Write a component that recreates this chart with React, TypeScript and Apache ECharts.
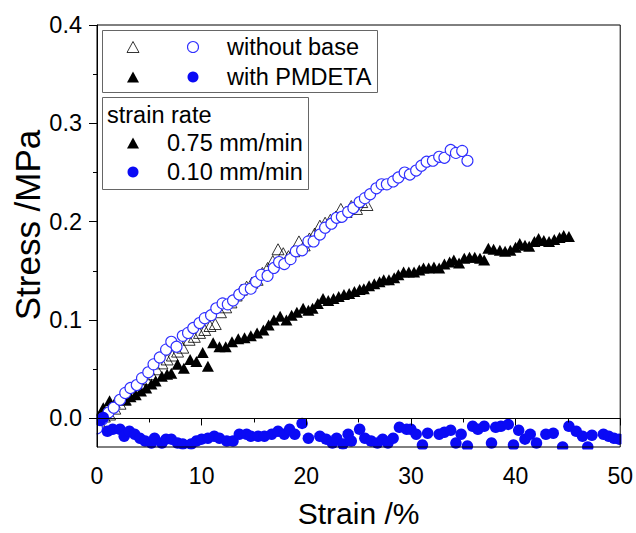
import React, { useEffect, useRef } from "react";
import * as echarts from "echarts";

const FONT = "'Liberation Sans', Arial, Helvetica, sans-serif";

const xTickValues = [0, 10, 20, 30, 40, 50];
const yMajorTicks = [0, 0.1, 0.2, 0.3, 0.4];
const yMinorTicks = [0.05, 0.15, 0.25, 0.35];

const legendTopLabels = ["without base", "with PMDETA"];
const legendRateTitle = "strain rate";
const legendRateLabels = ["0.75 mm/min", "0.10 mm/min"];

// without base, 0.75 mm/min (open triangles)
const withoutBaseFast: [number, number][] = [
  [0.2, -0.003], [0.7, 0.002], [1.2, 0.004], [1.7, 0.010], [2.2, 0.015], [2.7, 0.019],
  [3.2, 0.025], [3.7, 0.029], [4.2, 0.034], [4.7, 0.040], [5.2, 0.045], [5.7, 0.050],
  [6.2, 0.056], [6.7, 0.060], [7.2, 0.064], [7.7, 0.068], [8.2, 0.072], [8.8, 0.080],
  [9.3, 0.083], [9.8, 0.087], [10.3, 0.090], [10.8, 0.094], [11.3, 0.096], [11.8, 0.108],
  [12.3, 0.113], [12.8, 0.118], [13.3, 0.125], [13.8, 0.131], [14.3, 0.134], [14.8, 0.138],
  [15.3, 0.141], [15.8, 0.148], [16.3, 0.153], [16.8, 0.160], [17.3, 0.172], [17.8, 0.168],
  [18.3, 0.165], [18.8, 0.170], [19.3, 0.180], [19.8, 0.176], [20.3, 0.183], [20.8, 0.188],
  [21.3, 0.196], [21.8, 0.199], [22.3, 0.202], [22.8, 0.205], [23.3, 0.213], [23.8, 0.210],
  [24.3, 0.216], [24.8, 0.213], [25.3, 0.220], [25.8, 0.217],
];

// without base, 0.10 mm/min (open circles)
const withoutBaseSlow: [number, number][] = [
  [0, -0.010], [0.5, -0.001], [1.1, 0.006], [1.6, 0.011], [2.2, 0.019], [2.7, 0.026],
  [3.2, 0.031], [3.8, 0.034], [4.3, 0.041], [4.9, 0.047], [5.4, 0.055], [6.0, 0.062],
  [6.6, 0.070], [7.1, 0.078], [7.6, 0.073], [8.2, 0.084], [8.7, 0.087], [9.2, 0.092],
  [9.8, 0.097], [10.3, 0.102], [10.9, 0.105], [11.4, 0.112], [12.0, 0.117], [12.5, 0.116],
  [13.0, 0.120], [13.6, 0.126], [14.1, 0.131], [14.7, 0.132], [15.2, 0.139], [15.7, 0.146],
  [16.3, 0.145], [16.9, 0.153], [17.4, 0.159], [17.9, 0.157], [18.5, 0.162], [19.0, 0.170],
  [19.6, 0.171], [20.2, 0.180], [20.7, 0.180], [21.3, 0.187], [21.8, 0.194], [22.4, 0.198],
  [22.9, 0.204], [23.4, 0.205], [24.0, 0.210], [24.5, 0.214], [25.1, 0.220], [25.6, 0.224],
  [26.1, 0.228], [26.7, 0.234], [27.2, 0.238], [27.7, 0.238], [28.3, 0.241], [28.8, 0.245],
  [29.4, 0.250], [29.9, 0.248], [30.5, 0.252], [31.0, 0.257], [31.5, 0.261], [32.1, 0.262],
  [32.7, 0.266], [33.2, 0.265], [33.8, 0.273], [34.3, 0.270], [34.9, 0.272], [35.4, 0.262],
];

// with PMDETA, 0.75 mm/min (filled triangles)
const withPmdetaFast: [number, number][] = [
  [0.1, 0.002], [0.6, 0.011], [1.2, 0.018], [1.7, 0.016], [2.2, 0.020], [2.7, 0.019],
  [3.2, 0.022], [3.7, 0.024], [4.2, 0.028], [4.7, 0.031], [5.2, 0.035], [5.6, 0.038],
  [6.2, 0.043], [6.7, 0.045], [7.1, 0.046], [7.7, 0.055], [8.3, 0.051], [8.9, 0.060],
  [9.5, 0.058], [10.1, 0.067], [10.6, 0.053], [11.1, 0.077], [11.7, 0.073], [12.3, 0.073],
  [12.9, 0.078], [13.5, 0.081], [14.1, 0.082], [14.7, 0.084], [15.3, 0.087], [15.9, 0.090],
  [16.4, 0.095], [16.9, 0.100], [17.5, 0.104], [18.1, 0.100], [18.6, 0.105], [19.1, 0.108],
  [19.7, 0.112], [20.2, 0.110], [20.6, 0.112], [21.1, 0.117], [21.6, 0.122], [22.1, 0.120],
  [22.6, 0.122], [23.1, 0.124], [23.6, 0.126], [24.1, 0.127], [24.6, 0.129], [25.1, 0.131],
  [25.5, 0.132], [26.0, 0.135], [26.5, 0.137], [27.0, 0.139], [27.4, 0.141], [27.9, 0.141],
  [28.4, 0.143], [28.8, 0.146], [29.3, 0.149], [29.8, 0.149], [30.3, 0.149], [30.8, 0.151],
  [31.2, 0.153], [31.7, 0.153], [32.2, 0.154], [32.7, 0.153], [33.2, 0.157], [33.7, 0.159],
  [34.1, 0.161], [34.6, 0.158], [35.1, 0.163], [35.6, 0.164], [36.1, 0.164], [36.6, 0.163],
  [37.0, 0.161], [37.4, 0.173], [37.9, 0.172], [38.5, 0.171], [39.0, 0.170], [39.5, 0.171],
  [40.0, 0.174], [40.4, 0.178], [40.9, 0.176], [41.3, 0.175], [41.8, 0.180], [42.2, 0.183],
  [42.7, 0.181], [43.2, 0.180], [43.7, 0.182], [44.2, 0.184], [44.6, 0.186], [45.1, 0.185],
];

// with PMDETA, 0.10 mm/min (filled circles)
const withPmdetaSlow: [number, number][] = [
  [0.3, -0.002], [0.6, 0.001], [1.0, -0.013], [1.5, -0.011], [2.2, -0.011], [2.6, -0.018],
  [3.1, -0.013], [3.6, -0.016], [4.1, -0.020], [4.6, -0.023], [5.2, -0.025], [5.5, -0.020],
  [6.2, -0.025], [6.6, -0.021], [7.1, -0.021], [7.7, -0.025], [8.2, -0.026], [9.0, -0.026],
  [9.5, -0.023], [10.0, -0.021], [10.6, -0.020], [11.2, -0.018], [11.7, -0.020], [12.4, -0.023],
  [13.0, -0.023], [13.6, -0.016], [14.3, -0.016], [14.7, -0.018], [15.4, -0.018], [16.0, -0.018],
  [16.7, -0.016], [17.3, -0.013], [17.9, -0.016], [18.4, -0.011], [18.9, -0.016], [19.6, -0.005],
  [20.2, -0.020], [21.3, -0.018], [21.9, -0.021], [22.5, -0.025], [22.9, -0.020], [23.5, -0.026],
  [24.0, -0.016], [24.3, -0.023], [25.1, -0.011], [25.6, -0.020], [26.2, -0.023], [26.8, -0.025],
  [27.3, -0.021], [27.8, -0.025], [28.3, -0.020], [28.9, -0.009], [29.6, -0.011], [30.0, -0.011],
  [30.5, -0.016], [31.1, -0.027], [31.6, -0.015], [32.7, -0.016], [33.2, -0.014], [33.8, -0.012],
  [34.3, -0.025], [34.8, -0.016], [35.4, -0.028], [35.9, -0.008], [36.4, -0.011], [37.0, -0.008],
  [37.7, -0.025], [38.1, -0.009], [38.6, -0.008], [39.3, -0.006], [39.8, -0.027], [40.3, -0.012],
  [40.9, -0.021], [41.4, -0.016], [42.0, -0.025], [42.9, -0.016], [43.6, -0.015], [44.5, -0.029],
  [45.1, -0.008], [45.8, -0.013], [46.4, -0.018], [46.9, -0.029], [47.3, -0.017], [48.4, -0.016],
  [48.9, -0.018], [49.4, -0.020], [49.9, -0.021],
];

const BLUE_FILL = "#0a0af5";
const BLUE_LINE = "#2f2fff";

function tri(cx: number, cy: number) {
  return [
    [cx, cy - 5.5],
    [cx + 6, cy + 5.5],
    [cx - 6, cy + 5.5],
  ];
}

export default function App() {
  const ref = useRef<HTMLDivElement>(null);

  useEffect(() => {
    if (!ref.current) return;
    const chart = echarts.init(ref.current, null, { renderer: "svg" });

    const txt = (text: string, x: number, y: number, size: number) => ({
      type: "text",
      x,
      y,
      z: 101,
      style: {
        text,
        fontSize: size,
        fontFamily: FONT,
        fill: "#000",
        align: "left",
        verticalAlign: "middle",
      },
    });

    const mask = (x: number, y: number, width: number, height: number) => ({
      type: "rect",
      z: 5,
      silent: true,
      shape: { x, y, width, height },
      style: { fill: "#fff" },
    });

    const option: any = {
      animation: false,
      backgroundColor: "#fff",
      grid: {
        left: 97,
        right: 15,
        top: 25,
        bottom: 84,
        show: true,
        z: 10,
        borderColor: "#000",
        borderWidth: 1,
        backgroundColor: "transparent",
      },
      xAxis: {
        type: "value",
        z: 10,
        min: 0,
        max: 50,
        interval: 10,
        name: "Strain /%",
        nameLocation: "middle",
        nameGap: 51,
        nameTextStyle: { fontSize: 30, fontFamily: FONT, color: "#000" },
        axisLine: { show: true, lineStyle: { color: "#000", width: 1 } },
        axisTick: { show: true, length: 7, lineStyle: { color: "#000", width: 1 } },
        minorTick: { show: true, splitNumber: 2, length: 4, lineStyle: { color: "#000", width: 1 } },
        axisLabel: {
          fontSize: 23,
          fontFamily: FONT,
          color: "#000",
          margin: 17,
          customValues: xTickValues,
        },
        splitLine: { show: false },
        minorSplitLine: { show: false },
      },
      yAxis: [
        {
          type: "value",
          z: 10,
          min: -0.029,
          max: 0.4,
          position: "left",
          axisLine: { show: true, onZero: false, lineStyle: { color: "#000", width: 1 } },
          axisTick: { show: true, length: 8, customValues: yMajorTicks, lineStyle: { color: "#000", width: 1 } },
          axisLabel: {
            fontSize: 23.5,
            fontFamily: FONT,
            color: "#000",
            margin: 15,
            customValues: yMajorTicks,
            formatter: (v: number) => v.toFixed(1),
          },
          splitLine: { show: false },
        },
        {
          type: "value",
          z: 10,
          min: -0.029,
          max: 0.4,
          position: "left",
          offset: 0,
          axisLine: { show: false },
          axisTick: { show: true, length: 4, customValues: yMinorTicks, lineStyle: { color: "#000", width: 1 } },
          axisLabel: { show: false },
          splitLine: { show: false },
        },
      ],
      series: [
        {
          name: "with PMDETA 0.75",
          type: "scatter",
          data: withPmdetaFast,
          symbol: "triangle",
          symbolSize: [12, 11],
          itemStyle: { color: "#000", opacity: 1 },
        },
        {
          name: "without base 0.75",
          type: "scatter",
          data: withoutBaseFast,
          symbol: "triangle",
          symbolSize: [12, 11],
          itemStyle: { color: "rgba(0,0,0,0)", borderColor: "#000", borderWidth: 0.8, opacity: 1 },
        },
        {
          name: "without base 0.10",
          type: "scatter",
          data: withoutBaseSlow,
          symbol: "circle",
          symbolSize: 11,
          itemStyle: { color: "#fff", borderColor: BLUE_LINE, borderWidth: 1.1, opacity: 1 },
        },
        {
          name: "with PMDETA 0.10",
          type: "scatter",
          data: withPmdetaSlow,
          symbol: "circle",
          symbolSize: 11.5,
          itemStyle: { color: BLUE_FILL, opacity: 1 },
        },
      ],
      graphic: [
        mask(85, 449.5, 551, 14),
        mask(621.5, 15, 14.5, 450),
        mask(84, 380, 12.5, 84),
        {
          type: "text",
          x: 27,
          y: 225,
          rotation: Math.PI / 2,
          style: {
            text: "Stress /MPa",
            fontSize: 35,
            fontFamily: FONT,
            fill: "#000",
            align: "center",
            verticalAlign: "middle",
          },
        },
        {
          type: "rect",
          z: 100,
          shape: { x: 102.5, y: 30.5, width: 275, height: 62 },
          style: { fill: "#fff", stroke: "#666", lineWidth: 1 },
        },
        { type: "polygon", z: 101, shape: { points: tri(133, 47) }, style: { fill: "#fff", stroke: "#000", lineWidth: 0.8 } },
        { type: "circle", z: 101, shape: { cx: 193, cy: 47, r: 5.5 }, style: { fill: "#fff", stroke: BLUE_LINE, lineWidth: 1.1 } },
        txt(legendTopLabels[0], 227, 47, 23.5),
        { type: "polygon", z: 101, shape: { points: tri(133, 77) }, style: { fill: "#000" } },
        { type: "circle", z: 101, shape: { cx: 193, cy: 77, r: 5.5 }, style: { fill: BLUE_FILL } },
        txt(legendTopLabels[1], 227, 77, 23.5),
        {
          type: "rect",
          z: 100,
          shape: { x: 102.5, y: 97.5, width: 206, height: 92 },
          style: { fill: "#fff", stroke: "#666", lineWidth: 1 },
        },
        txt(legendRateTitle, 107, 115, 23.5),
        { type: "polygon", z: 101, shape: { points: tri(133, 143) }, style: { fill: "#000" } },
        txt(legendRateLabels[0], 167, 143, 23.5),
        { type: "circle", z: 101, shape: { cx: 133, cy: 172, r: 5.5 }, style: { fill: BLUE_FILL } },
        txt(legendRateLabels[1], 167, 172, 23.5),
      ],
    };

    chart.setOption(option);
    return () => chart.dispose();
  }, []);

  return (
    <div
      ref={ref}
      style={{ position: "fixed", left: 0, top: 0, width: 636, height: 533, background: "#fff" }}
    />
  );
}
